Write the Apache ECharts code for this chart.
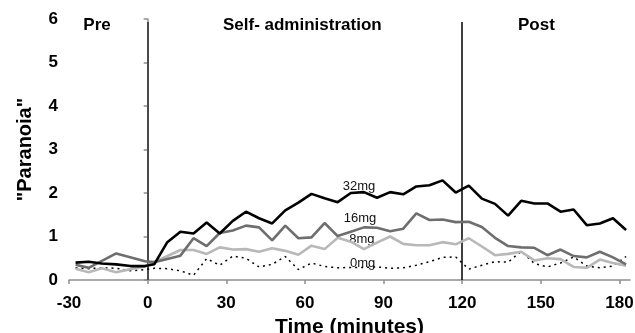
<!DOCTYPE html>
<html>
<head>
<meta charset="utf-8">
<script src="https://cdn.jsdelivr.net/npm/echarts@6/dist/echarts.min.js"></script>
<style>
html,body{margin:0;padding:0;background:#fff;}
#c{width:635px;height:333px;}
</style>
</head>
<body>
<div id="c"></div>
<script>
// ---- data ----
var times = [-27.5,-22.5,-17.5,-12,-6.5,-1,2.5,7.5,12.5,17.5,22.5,27.5,32.5,37.5,42.5,47.5,52.5,57.5,62.5,67.5,72.5,77.5,82.5,87.5,92.5,97.5,102.5,107.5,112.5,117.5,122.5,127.5,132.5,137.5,142.5,147.5,152.5,157.5,162.5,167.5,172.5,177.5,182.5];
var mg32 = [0.40,0.42,0.38,0.36,0.32,0.32,0.36,0.87,1.11,1.07,1.32,1.07,1.36,1.57,1.42,1.30,1.60,1.78,1.98,1.88,1.79,2.00,2.02,1.89,2.02,1.97,2.15,2.18,2.29,2.01,2.17,1.87,1.75,1.48,1.82,1.76,1.76,1.57,1.62,1.26,1.30,1.42,1.15];
var mg16 = [0.35,0.28,null,0.61,null,0.43,0.41,null,0.56,0.96,0.78,1.08,1.14,1.25,1.21,0.91,1.25,0.96,0.98,1.31,1.01,1.11,1.21,1.20,1.12,1.18,1.53,1.38,1.39,1.33,1.34,1.22,0.97,0.78,0.75,0.74,0.57,0.70,0.55,0.52,0.65,0.52,0.36];
var mg8 = [0.26,0.18,0.27,0.18,0.25,0.31,null,null,0.69,0.69,0.60,0.75,0.70,0.71,0.65,0.73,0.67,0.58,0.79,0.71,0.97,0.88,0.71,0.86,1.00,0.83,0.80,0.80,0.87,0.82,0.96,0.77,0.57,0.60,0.65,0.45,0.50,0.48,0.30,0.28,0.47,0.39,0.33];
var mg0 = [0.28,0.26,0.28,0.27,0.21,0.24,0.27,0.26,0.21,0.11,0.49,0.34,0.55,0.50,0.30,0.36,0.54,0.24,0.39,0.31,0.28,0.29,0.29,0.30,0.27,0.28,0.34,0.42,0.52,0.53,0.25,0.34,0.42,0.41,0.66,0.38,0.30,0.39,0.53,0.32,0.28,0.32,0.54];
var xTicks = [-30,0,30,60,90,120,150,180];
var seriesNames = ['32mg','16mg','8mg','0mg'];
var seriesLabelPos = [[80.6,2.16],[81,1.42],[81.7,0.94],[82,0.37]];
var phaseNames = ['Pre','Self- administration','Post'];
var phaseLabelPos = [[-19.3,5.86],[59,5.86],[148.3,5.86]];
var phaseBounds = [0,120];
var phaseLineTop = 5.93;

function pairs(v){ return times.map(function(t,i){ return [t, v[i]]; }); }

var FONT = 'Liberation Sans, Arial, sans-serif';
var chart = echarts.init(document.getElementById('c'), null, {renderer:'canvas'});

var styles = [
  {color:'#000000', width:2.6, type:'solid'},
  {color:'#6e6e6e', width:2.6, type:'solid'},
  {color:'#b8b8b8', width:2.6, type:'solid'},
  {color:'#000000', width:1.5, type:[2,4]}
];
var vals = [mg32, mg16, mg8, mg0];

var series = [];
for (var i = 3; i >= 0; i--) {
  series.push({
    type:'line', name:seriesNames[i], data:pairs(vals[i]), showSymbol:false, symbol:'none',
    connectNulls:true, silent:true, animation:false,
    lineStyle:{color:styles[i].color, width:styles[i].width, type:styles[i].type},
    z: 10 - i,
    markPoint:{
      symbol:'circle', symbolSize:0, silent:true, animation:false,
      label:{show:true, position:'inside', formatter:'{b}', color:'#111', fontSize:13, fontFamily:FONT},
      data:[{name:seriesNames[i], coord:seriesLabelPos[i]}]
    }
  });
}
series.push({
  type:'line', data:[], silent:true, animation:false,
  markLine:{
    symbol:['none','none'], silent:true, animation:false, label:{show:false},
    data:[
      [{coord:[phaseBounds[0],0], lineStyle:{color:'#4a4a4a', width:2, type:'solid'}},{coord:[phaseBounds[0],phaseLineTop]}],
      [{coord:[phaseBounds[1],0], lineStyle:{color:'#000', width:1.5, type:'solid'}},{coord:[phaseBounds[1],phaseLineTop]}]
    ]
  },
  markPoint:{
    symbol:'circle', symbolSize:0, silent:true, animation:false,
    label:{show:true, position:'inside', formatter:'{b}', color:'#000', fontSize:17, fontWeight:'bold', fontFamily:FONT},
    data: phaseNames.map(function(n,i){ return {name:n, coord:phaseLabelPos[i]}; })
  }
});

chart.setOption({
  backgroundColor:'#fff',
  animation:false,
  grid:{left:69, right:5, top:19, bottom:53, containLabel:false, outerBoundsMode:'none'},
  xAxis:{
    type:'value', min:-30, max:184,
    name:'Time (minutes)', nameLocation:'middle', nameGap:36,
    nameTextStyle:{fontSize:21, fontWeight:'bold', color:'#000', fontFamily:FONT},
    axisLine:{show:true, lineStyle:{color:'#8f8f8f', width:1.5}},
    axisTick:{show:true, length:4, inside:false, customValues:xTicks, lineStyle:{color:'#8f8f8f', width:1.5}},
    axisLabel:{customValues:xTicks, fontSize:17, fontWeight:'bold', color:'#000', margin:15, fontFamily:FONT},
    splitLine:{show:false}
  },
  yAxis:{
    type:'value', min:0, max:6, interval:1,
    name:'"Paranoia"', nameLocation:'middle', nameGap:34, nameRotate:90,
    nameTextStyle:{fontSize:20, fontWeight:'bold', color:'#000', fontFamily:FONT},
    axisLine:{show:true, lineStyle:{color:'#8f8f8f', width:1.5}},
    axisTick:{show:true, length:4, lineStyle:{color:'#8f8f8f', width:1.5}},
    axisLabel:{fontSize:17, fontWeight:'bold', color:'#000', margin:11, fontFamily:FONT},
    splitLine:{show:false}
  },
  series:series
});
</script>
</body>
</html>
